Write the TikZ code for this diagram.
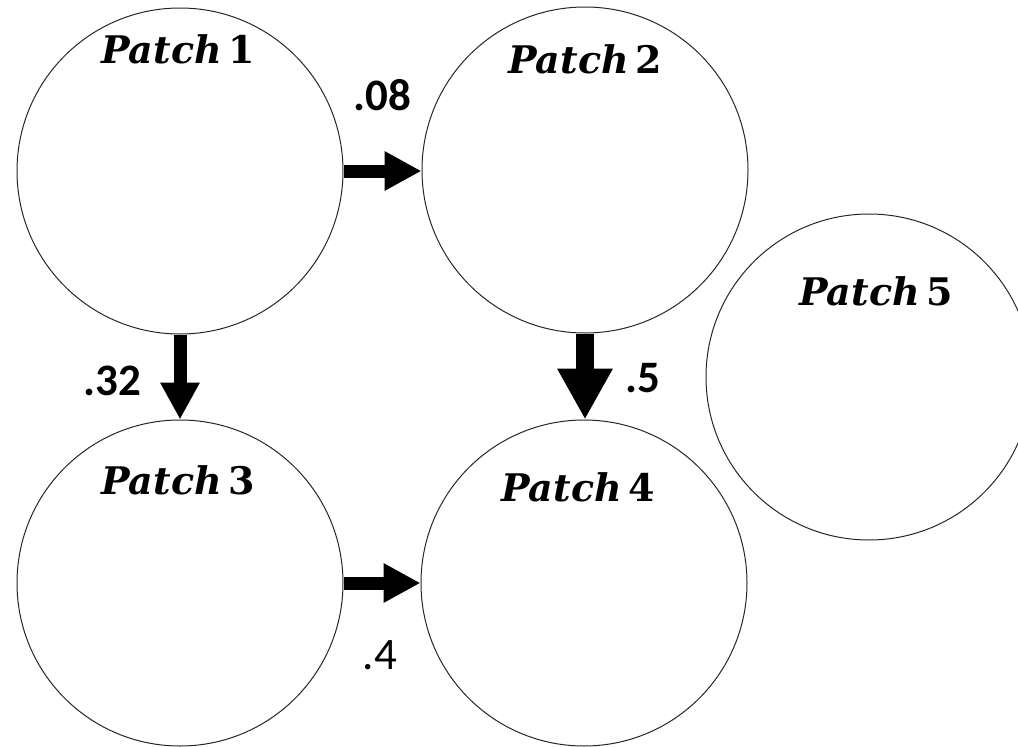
\documentclass[tikz,border=0pt]{standalone}
\usepackage{fontspec}
\setsansfont{Carlito}
\newfontfamily\patchfont{DejaVu Serif}
\usetikzlibrary{arrows.meta}
\begin{document}
\begin{tikzpicture}[x=1pt,y=-1pt,
  patch/.style={circle, draw=black!85, line width=1pt, minimum size=326pt, inner sep=0pt},
  pname/.style={font=\patchfont\fontsize{38}{44}\selectfont, inner sep=0pt, anchor=base},
  flow/.style={line width=13pt, -{Triangle[length=37pt,width=37pt]}},
  bigflow/.style={line width=18pt, -{Triangle[length=51pt,width=52pt]}},
  rate/.style={font=\sffamily\fontsize{45}{52}\selectfont, inner sep=0pt, anchor=base}
]
\useasboundingbox (0,0) rectangle (1018,747);
\clip (0,0) rectangle (1018,747);

% patches
\node[patch] (p1) at (180,171) {};
\node[patch] (p2) at (585,170) {};
\node[patch] (p3) at (180,583) {};
\node[patch] (p4) at (584,583) {};
\node[patch] (p5) at (869,377) {};

% patch names
\node[pname] (t1) at (178,63)  {\textbf{\textit{Patch}}\,\textbf{1}};
\node[pname] (t2) at (585,73)  {\textbf{\textit{Patch}}\,\textbf{2}};
\node[pname] (t3) at (178,494) {\textbf{\textit{Patch}}\,\textbf{3}};
\node[pname] (t4) at (578,501) {\textbf{\textit{Patch}}\,\textbf{4}};
\node[pname] (t5) at (876,305) {\textbf{\textit{Patch}}\,\textbf{5}};

% movement between patches
\draw[flow] (p1.east) -- (p1.east -| p2.west);
\draw[flow] (p1.south) -- (p3.north);
\draw[bigflow] (p2.south) -- (p2.south |- p4.north);
\draw[flow] (p3.east) -- (p3.east -| p4.west);

% rates
\node[rate] (r12) at (382,110) {\textbf{.08}};
\node[rate] (r13) at (112,395) {\textbf{.32}};
\node[rate] (r24) at (643,392) {\textbf{.5}};
\node[rate] (r34) at (380,669) {.4};
\end{tikzpicture}
\end{document}
